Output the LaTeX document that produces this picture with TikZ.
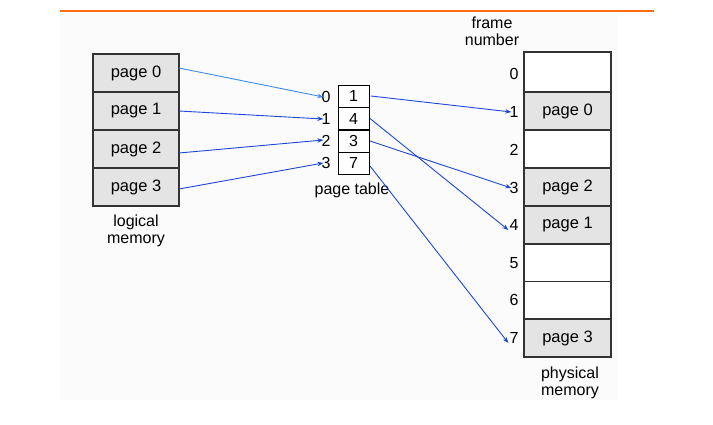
\documentclass[tikz,border=0pt]{standalone}
\usepackage{fontspec}
\setmainfont{Liberation Sans}
\usetikzlibrary{arrows.meta}
\definecolor{cellgray}{HTML}{E4E4E4}
\definecolor{edge}{HTML}{333333}
\definecolor{arrA}{RGB}{60,140,235}
\definecolor{arrB}{RGB}{30,70,215}
\definecolor{rule}{RGB}{255,110,20}
\definecolor{bgpanel}{HTML}{FBFBFB}
\tikzset{
  cell/.style={draw=edge, line width=1.3pt, inner sep=0pt, outer sep=0pt, minimum width=86pt, minimum height=38pt, font=\fontsize{16.5}{18}\selectfont},
  used/.style={cell, fill=cellgray},
  free/.style={cell, fill=white},
  tcell/.style={draw=black, line width=1pt, fill=white, inner sep=0pt, outer sep=0pt, minimum width=31pt, minimum height=22pt, font=\fontsize{16}{18}\selectfont},
  lbl/.style={inner sep=0pt, font=\fontsize{16}{18}\selectfont},
  captext/.style={align=center, inner sep=0pt, font=\fontsize{16}{17}\selectfont},
  link/.style={line width=0.9pt, -{Stealth[length=6pt,width=4.5pt]}},
}
\begin{document}
\begin{tikzpicture}[x=1pt,y=-1pt]
\useasboundingbox (0,0) rectangle (713,424);
\fill[bgpanel] (60,14) rectangle (618,400);
\draw[rule, line width=1.6pt] (60,11) -- (654,11);
% logical memory
\node[used] (l0) at (136,73) {page 0};
\node[used] (l1) at (136,111) {page 1};
\node[used] (l2) at (136,149) {page 2};
\node[used] (l3) at (136,187) {page 3};
\node[captext] (lcap) at (136,231) {logical\\memory};
% page table
\node[tcell] (t0) at (353.5,96) {1};
\node[tcell] (t1) at (353.5,118.5) {4};
\node[tcell] (t2) at (353.5,141) {3};
\node[tcell] (t3) at (353.5,163) {7};
\node[lbl] (i0) at (326,97) {0};
\node[lbl] (i1) at (326,119) {1};
\node[lbl] (i2) at (326,141) {2};
\node[lbl] (i3) at (326,163) {3};
\node[lbl] (ptcap) at (352,190) {page table};
% physical memory
\node[free, minimum width=87pt, minimum height=40pt] (f0) at (567.5,72) {};
\node[used, minimum width=87pt] (f1) at (567.5,111) {page 0};
\node[free, minimum width=87pt] (f2) at (567.5,149) {};
\node[used, minimum width=87pt] (f3) at (567.5,187) {page 2};
\node[used, minimum width=87pt] (f4) at (567.5,225) {page 1};
\node[free, minimum width=87pt] (f5) at (567.5,263) {};
\node[free, minimum width=87pt] (f6) at (567.5,300.5) {};
\node[used, minimum width=87pt] (f7) at (567.5,338) {page 3};
\node[captext] (fcap) at (492,31) {frame\\number};
\node[captext] (pcap) at (570,383) {physical\\memory};
\node[lbl] (n0) at (514,74) {0};
\node[lbl] (n1) at (514,112) {1};
\node[lbl] (n2) at (514,150) {2};
\node[lbl] (n3) at (514,188) {3};
\node[lbl] (n4) at (514,225) {4};
\node[lbl] (n5) at (514,263) {5};
\node[lbl] (n6) at (514,300) {6};
\node[lbl] (n7) at (514,338) {7};
% arrows logical -> page table
\draw[link, arrA] ([yshift=5pt]l0.east) -- ([xshift=2pt]i0.west);
\draw[link, arrB] (l1.east) -- ([xshift=2pt]i1.west);
\draw[link, arrB] ([yshift=-4pt]l2.east) -- ([xshift=2pt,yshift=1pt]i2.west);
\draw[link, arrB] ([yshift=-2pt]l3.east) -- ([xshift=2pt]i3.west);
% arrows page table -> frames
\draw[link, arrB] ([xshift=2pt]t0.east) -- ([xshift=2pt]n1.west);
\draw[link, arrB] ([xshift=1pt]t1.east) -- ([xshift=-1pt,yshift=-5pt]n4.west);
\draw[link, arrB] ([xshift=1pt]t2.east) -- ([xshift=2pt]n3.west);
\draw[link, arrB] ([xshift=1pt,yshift=-3pt]t3.east) -- ([xshift=-1pt,yshift=-5pt]n7.west);
\end{tikzpicture}
\end{document}
